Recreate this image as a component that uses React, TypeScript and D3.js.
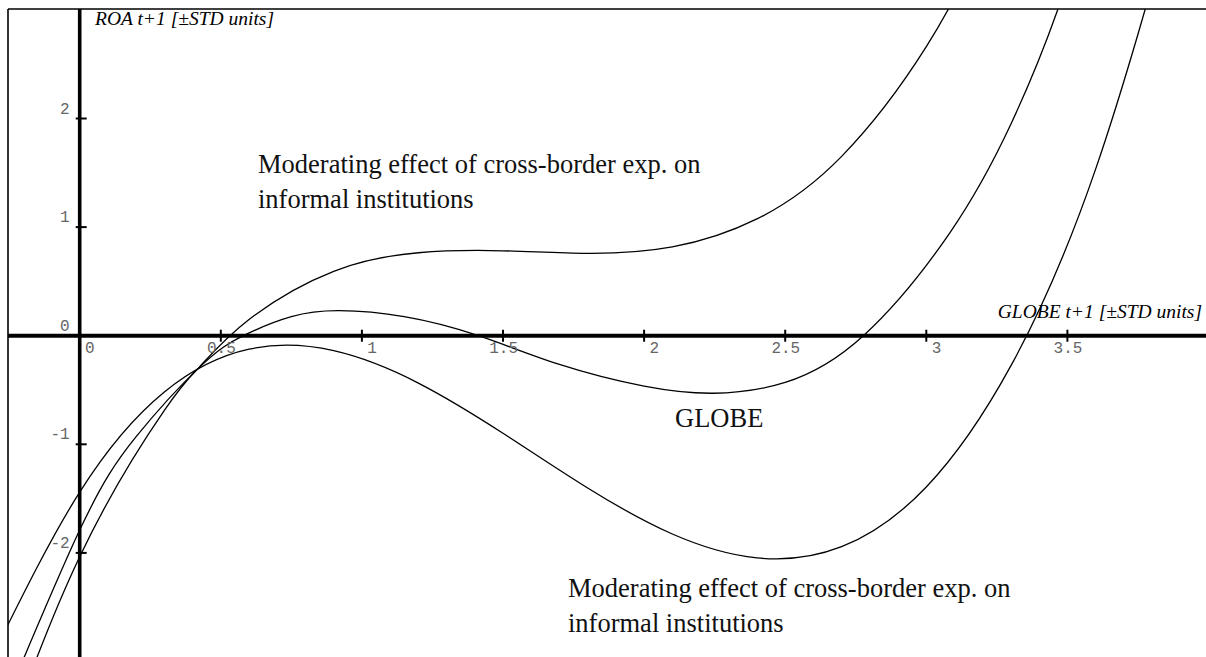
import { useEffect, useRef } from 'react';
import * as d3 from 'd3';

const W = 1206;
const H = 657;

// tick positions and their labels
const xTickValues = [0.5, 1, 1.5, 2, 2.5, 3, 3.5];
const xLabelValues = [0, 0.5, 1, 1.5, 2, 2.5, 3, 3.5];
const xTickLabels = ['0', '0.5', '1', '1.5', '2', '2.5', '3', '3.5'];
const yTickValues = [-2, -1, 1, 2];
const yLabelValues = [-2, -1, 0, 1, 2];
const yTickLabels = ['-2', '-1', '0', '1', '2'];

// curves as [GLOBE t+1, ROA t+1]
const upperModerating = [
  [-0.3, -4.01], [0, -2.035], [0.3, -0.688], [0.427, -0.28], [0.6, 0.149],
  [0.9, 0.593], [1.2, 0.764], [1.5, 0.782], [1.8, 0.758], [2.1, 0.817],
  [2.4, 1.075], [2.7, 1.651], [3.0, 2.661], [3.2, 3.636],
];
const globe = [
  [-0.3, -3.6], [0, -1.79], [0.2, -0.93], [0.427, -0.285], [0.58, 0],
  [0.75, 0.175], [0.92, 0.23], [1.15, 0.175], [1.413, 0], [1.7, -0.265],
  [2.0, -0.465], [2.245, -0.53], [2.5, -0.43], [2.777, 0], [3.084, 0.95],
  [3.3, 1.95], [3.466, 3.004], [3.6, 4.1],
];
const lowerModerating = [
  [-0.3, -2.9], [0, -1.44], [0.3, -0.518], [0.6, -0.124], [0.9, -0.138],
  [1.2, -0.436], [1.5, -0.898], [1.8, -1.402], [2.1, -1.826], [2.4, -2.046],
  [2.7, -1.943], [3.0, -1.393], [3.3, -0.276], [3.6, 1.534], [3.9, 4.15],
];

const annotations = [
  { lines: ['Moderating effect of cross-border exp. on', 'informal institutions'], x: 258, y: 173 },
  { lines: ['GLOBE'], x: 675, y: 427 },
  { lines: ['Moderating effect of cross-border exp. on', 'informal institutions'], x: 568, y: 597 },
];

export default function App() {
  const svgRef = useRef(null);

  useEffect(() => {
    const svg = d3.select(svgRef.current);
    svg.selectAll('*').remove();

    const left = 8, top = 9;
    const x = d3.scaleLinear().domain([0, 3.5]).range([79.7, 79.7 + 3.5 * 282.2]);
    const y = d3.scaleLinear().domain([0, 2]).range([335.7, 335.7 - 2 * 108.6]);

    svg.append('defs').append('clipPath').attr('id', 'plot-clip')
      .append('rect').attr('x', left).attr('y', top).attr('width', W - left).attr('height', H - top);

    // frame
    svg.append('line').attr('x1', left).attr('x2', W).attr('y1', top).attr('y2', top)
      .attr('stroke', '#000').attr('stroke-width', 1.5);
    svg.append('line').attr('x1', left).attr('x2', left).attr('y1', top).attr('y2', H)
      .attr('stroke', '#000').attr('stroke-width', 1.6);

    const line = d3.line()
      .x(d => x(d[0]))
      .y(d => y(d[1]))
      .curve(d3.curveNatural);

    const curves = svg.append('g').attr('clip-path', 'url(#plot-clip)');
    [upperModerating, globe, lowerModerating].forEach(data => {
      curves.append('path')
        .attr('d', line(data))
        .attr('fill', 'none')
        .attr('stroke', '#000')
        .attr('stroke-width', 1.3);
    });

    // axes through the origin
    svg.append('line').attr('x1', left).attr('x2', W).attr('y1', y(0)).attr('y2', y(0))
      .attr('stroke', '#000').attr('stroke-width', 4);
    svg.append('line').attr('x1', x(0)).attr('x2', x(0)).attr('y1', top).attr('y2', H)
      .attr('stroke', '#000').attr('stroke-width', 3.6);

    svg.selectAll('.x-tick').data(xTickValues).enter().append('line')
      .attr('class', 'x-tick')
      .attr('x1', d => x(d)).attr('x2', d => x(d))
      .attr('y1', y(0) - 6).attr('y2', y(0) + 6)
      .attr('stroke', '#000').attr('stroke-width', 2);

    svg.selectAll('.y-tick').data(yTickValues).enter().append('line')
      .attr('class', 'y-tick')
      .attr('x1', x(0) - 4).attr('x2', x(0) + 7)
      .attr('y1', d => y(d)).attr('y2', d => y(d))
      .attr('stroke', '#000').attr('stroke-width', 2);

    const mono = '"Liberation Mono", "DejaVu Sans Mono", monospace';

    svg.selectAll('.x-label').data(xLabelValues).enter().append('text')
      .attr('class', 'x-label')
      .attr('x', d => x(d) + 15)
      .attr('y', y(0) + 17)
      .attr('text-anchor', 'end')
      .style('font-family', mono).style('font-size', '16px').attr('fill', '#666')
      .text((d, i) => xTickLabels[i]);

    svg.selectAll('.y-label').data(yLabelValues).enter().append('text')
      .attr('class', 'y-label')
      .attr('x', x(0) - 10)
      .attr('y', d => y(d) - 5)
      .attr('text-anchor', 'end')
      .style('font-family', mono).style('font-size', '16px').attr('fill', '#666')
      .text((d, i) => yTickLabels[i]);

    const serif = '"Liberation Serif", "Times New Roman", serif';

    svg.append('text').attr('x', 95).attr('y', 25)
      .style('font-family', serif).style('font-size', '19.5px').style('font-style', 'italic')
      .text('ROA t+1 [±STD units]');
    svg.append('text').attr('x', 1202).attr('y', 318).attr('text-anchor', 'end')
      .style('font-family', serif).style('font-size', '19.5px').style('font-style', 'italic')
      .text('GLOBE t+1 [±STD units]');

    annotations.forEach(a => {
      const t = svg.append('text')
        .style('font-family', serif).style('font-size', '26.5px').attr('fill', '#111');
      a.lines.forEach((l, i) => {
        t.append('tspan').attr('x', a.x).attr('y', a.y + i * 35).text(l);
      });
    });
  }, []);

  return (
    <svg
      ref={svgRef}
      width={W}
      height={H}
      style={{ position: 'absolute', left: 0, top: 0, background: '#fff' }}
    />
  );
}
